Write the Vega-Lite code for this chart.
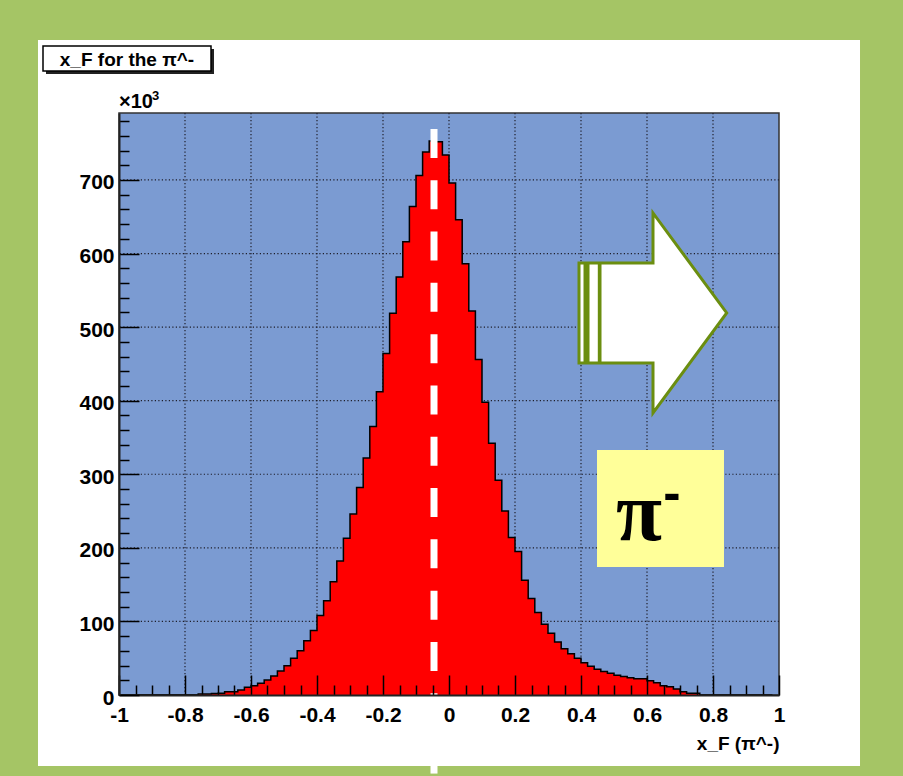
{
  "$schema": "https://vega.github.io/schema/vega-lite/v6.json",
  "width": 660,
  "height": 582,
  "autosize": {"type": "none"},
  "padding": {"left": 119, "top": 113, "right": 124, "bottom": 81},
  "background": "#a5c565",
  "config": {"view": {"stroke": null}},
  "datasets": {
    "hist": [
      {"x0": -1.00, "count": 0}, {"x0": -0.98, "count": 0}, {"x0": -0.96, "count": 0}, {"x0": -0.94, "count": 0},
      {"x0": -0.92, "count": 0}, {"x0": -0.90, "count": 0}, {"x0": -0.88, "count": 0}, {"x0": -0.86, "count": 0},
      {"x0": -0.84, "count": 0}, {"x0": -0.82, "count": 0}, {"x0": -0.80, "count": 0}, {"x0": -0.78, "count": 0},
      {"x0": -0.76, "count": 1.5}, {"x0": -0.74, "count": 1.5}, {"x0": -0.72, "count": 2}, {"x0": -0.70, "count": 2.5},
      {"x0": -0.68, "count": 4.5}, {"x0": -0.66, "count": 4.5}, {"x0": -0.64, "count": 6.8}, {"x0": -0.62, "count": 10.4},
      {"x0": -0.60, "count": 12.7}, {"x0": -0.58, "count": 15.9}, {"x0": -0.56, "count": 20.4}, {"x0": -0.54, "count": 25.8},
      {"x0": -0.52, "count": 32.6}, {"x0": -0.50, "count": 39.9}, {"x0": -0.48, "count": 49.8}, {"x0": -0.46, "count": 60.3},
      {"x0": -0.44, "count": 73.9}, {"x0": -0.42, "count": 87.5}, {"x0": -0.40, "count": 107.9}, {"x0": -0.38, "count": 128},
      {"x0": -0.36, "count": 154}, {"x0": -0.34, "count": 182}, {"x0": -0.32, "count": 213}, {"x0": -0.30, "count": 246},
      {"x0": -0.28, "count": 282}, {"x0": -0.26, "count": 322}, {"x0": -0.24, "count": 365}, {"x0": -0.22, "count": 412},
      {"x0": -0.20, "count": 464}, {"x0": -0.18, "count": 519}, {"x0": -0.16, "count": 568}, {"x0": -0.14, "count": 616},
      {"x0": -0.12, "count": 664}, {"x0": -0.10, "count": 706}, {"x0": -0.08, "count": 738}, {"x0": -0.06, "count": 753},
      {"x0": -0.04, "count": 752}, {"x0": -0.02, "count": 734}, {"x0": 0.00, "count": 696}, {"x0": 0.02, "count": 646},
      {"x0": 0.04, "count": 586}, {"x0": 0.06, "count": 522}, {"x0": 0.08, "count": 456}, {"x0": 0.10, "count": 398},
      {"x0": 0.12, "count": 342}, {"x0": 0.14, "count": 292}, {"x0": 0.16, "count": 250}, {"x0": 0.18, "count": 214},
      {"x0": 0.20, "count": 195}, {"x0": 0.22, "count": 156}, {"x0": 0.24, "count": 131}, {"x0": 0.26, "count": 112},
      {"x0": 0.28, "count": 96}, {"x0": 0.30, "count": 84}, {"x0": 0.32, "count": 72}, {"x0": 0.34, "count": 63},
      {"x0": 0.36, "count": 56}, {"x0": 0.38, "count": 50}, {"x0": 0.40, "count": 44}, {"x0": 0.42, "count": 39},
      {"x0": 0.44, "count": 35}, {"x0": 0.46, "count": 32}, {"x0": 0.48, "count": 29.5}, {"x0": 0.50, "count": 27},
      {"x0": 0.52, "count": 25}, {"x0": 0.54, "count": 23.5}, {"x0": 0.56, "count": 22}, {"x0": 0.58, "count": 22},
      {"x0": 0.60, "count": 19.5}, {"x0": 0.62, "count": 16.7}, {"x0": 0.64, "count": 12.7}, {"x0": 0.66, "count": 11.3},
      {"x0": 0.68, "count": 8.2}, {"x0": 0.70, "count": 4.5}, {"x0": 0.72, "count": 2.3}, {"x0": 0.74, "count": 2.3},
      {"x0": 0.76, "count": 0}, {"x0": 0.78, "count": 0}, {"x0": 0.80, "count": 0}, {"x0": 0.82, "count": 0},
      {"x0": 0.84, "count": 0}, {"x0": 0.86, "count": 0}, {"x0": 0.88, "count": 0}, {"x0": 0.90, "count": 0},
      {"x0": 0.92, "count": 0}, {"x0": 0.94, "count": 0}, {"x0": 0.96, "count": 0}, {"x0": 0.98, "count": 0}
    ]
  },
  "resolve": {"axis": {"x": "independent", "y": "independent"}},
  "layer": [
    {
      "data": {"values": [{"x0": -1.2455, "x1": 1.2455, "y0": -96.5, "y1": 890.2}]},
      "mark": {"type": "rect", "fill": "white", "clip": false},
      "encoding": {
        "x": {"field": "x0", "type": "quantitative", "scale": {"domain": [-1, 1], "nice": false}, "axis": null},
        "x2": {"field": "x1"},
        "y": {"field": "y0", "type": "quantitative", "scale": {"domain": [0, 791], "nice": false}, "axis": null},
        "y2": {"field": "y1"}
      }
    },
    {
      "data": {"values": [{"x0": -1, "x1": 1, "y0": 0, "y1": 791}]},
      "mark": {"type": "rect", "fill": "#7b9bd2", "stroke": "#333333", "strokeWidth": 1.5, "clip": false},
      "encoding": {
        "x": {"field": "x0", "type": "quantitative", "scale": {"domain": [-1, 1], "nice": false}, "axis": null},
        "x2": {"field": "x1"},
        "y": {"field": "y0", "type": "quantitative", "scale": {"domain": [0, 791], "nice": false}, "axis": null},
        "y2": {"field": "y1"}
      }
    },
    {
      "data": {"values": [{"g": -0.8}, {"g": -0.6}, {"g": -0.4}, {"g": -0.2}, {"g": 0}, {"g": 0.2}, {"g": 0.4}, {"g": 0.6}, {"g": 0.8}]},
      "mark": {"type": "rule", "color": "#1e1e2a", "strokeWidth": 1.2, "strokeDash": [1.2, 2.3]},
      "encoding": {
        "x": {"field": "g", "type": "quantitative", "scale": {"domain": [-1, 1], "nice": false},
          "axis": {"orient": "bottom", "values": [-0.95, -0.9, -0.85, -0.75, -0.7, -0.65, -0.55, -0.5, -0.45, -0.35, -0.3, -0.25, -0.15, -0.1, -0.05, 0.05, 0.1, 0.15, 0.25, 0.3, 0.35, 0.45, 0.5, 0.55, 0.65, 0.7, 0.75, 0.85, 0.9, 0.95],
            "labels": false, "domain": false, "grid": false, "ticks": true, "tickSize": -10, "tickWidth": 1.5, "tickColor": "black", "title": null, "zindex": 1}}
      }
    },
    {
      "data": {"values": [{"g": 100}, {"g": 200}, {"g": 300}, {"g": 400}, {"g": 500}, {"g": 600}, {"g": 700}]},
      "mark": {"type": "rule", "color": "#1e1e2a", "strokeWidth": 1.2, "strokeDash": [1.2, 2.3]},
      "encoding": {
        "y": {"field": "g", "type": "quantitative", "scale": {"domain": [0, 791], "nice": false},
          "axis": {"orient": "left", "values": [20, 40, 60, 80, 120, 140, 160, 180, 220, 240, 260, 280, 320, 340, 360, 380, 420, 440, 460, 480, 520, 540, 560, 580, 620, 640, 660, 680, 720, 740, 760, 780],
            "labels": false, "domain": false, "grid": false, "ticks": true, "tickSize": -10, "tickWidth": 1.5, "tickColor": "black", "title": null, "zindex": 1}}
      }
    },
    {
      "data": {"name": "hist"},
      "mark": {"type": "area", "interpolate": "step-after", "color": "#ff0000", "opacity": 1, "fillOpacity": 1, "line": {"color": "black", "strokeWidth": 1.5}},
      "encoding": {
        "x": {"field": "x0", "type": "quantitative", "scale": {"domain": [-1, 1], "nice": false},
          "axis": {"orient": "bottom", "values": [-1, -0.8, -0.6, -0.4, -0.2, 0, 0.2, 0.4, 0.6, 0.8, 1], "labelExpr": "'' + datum.value",
            "grid": false, "domain": true, "domainColor": "#222222", "domainWidth": 2, "ticks": true, "tickSize": -20, "tickWidth": 1.5, "tickColor": "black",
            "labelFont": "Liberation Sans", "labelFontWeight": "bold", "labelFontSize": 21, "labelColor": "black", "labelPadding": 29.5, "labelBaseline": "top",
            "labelFlush": false, "labelOverlap": false,
            "title": "x_F (π^-)", "titleFont": "Liberation Sans", "titleFontWeight": "bold", "titleFontSize": 19, "titleColor": "black",
            "titleX": 660, "titleY": 54, "titleAlign": "right", "titleBaseline": "alphabetic", "titleAnchor": null, "zindex": 1}},
        "y": {"field": "count", "type": "quantitative", "scale": {"domain": [0, 791], "nice": false},
          "axis": {"orient": "left", "values": [0, 100, 200, 300, 400, 500, 600, 700], "grid": false, "domain": true, "domainColor": "#222222", "domainWidth": 2,
            "ticks": true, "tickSize": -20, "tickWidth": 1.5, "tickColor": "black",
            "labelFont": "Liberation Sans", "labelFontWeight": "bold", "labelFontSize": 21, "labelColor": "black", "labelPadding": 25, "labelOffset": 3,
            "labelFlush": false, "labelOverlap": false, "title": null, "zindex": 1}}
      }
    },
    {
      "data": {"values": [{"x": -0.04545, "y0": 769.3, "y1": -110.1}]},
      "mark": {"type": "rule", "color": "white", "strokeWidth": 7, "strokeDash": [29, 22.3], "clip": false},
      "encoding": {
        "x": {"field": "x", "type": "quantitative", "axis": null},
        "y": {"field": "y0", "type": "quantitative", "axis": null},
        "y2": {"field": "y1"}
      }
    },
    {
      "data": {"values": [{"x": 0.6182, "y": 519.2}]},
      "mark": {"type": "point", "shape": "M-0.53,-0.5 L0,-0.5 L0,-1 L0.737,0 L0,1 L0,0.5 L-0.53,0.5 Z M-0.74,-0.5 L-0.68,-0.5 L-0.68,0.5 L-0.74,0.5 Z M-0.65,-0.5 L-0.537,-0.5 L-0.537,0.5 L-0.65,0.5 Z",
        "size": 40000, "filled": true, "fill": "white", "stroke": "#6b8e10", "strokeWidth": 3, "opacity": 1, "fillOpacity": 1, "strokeOpacity": 1, "clip": false},
      "encoding": {
        "x": {"field": "x", "type": "quantitative", "axis": null},
        "y": {"field": "y", "type": "quantitative", "axis": null}
      }
    },
    {
      "data": {"values": [{"x0": 0.4485, "x1": 0.8333, "y0": 174, "y1": 333}]},
      "mark": {"type": "rect", "fill": "#ffff99"},
      "encoding": {
        "x": {"field": "x0", "type": "quantitative", "axis": null},
        "x2": {"field": "x1"},
        "y": {"field": "y0", "type": "quantitative", "axis": null},
        "y2": {"field": "y1"}
      }
    },
    {
      "data": {"values": [{"x": 0.5758, "y": 210.7, "t": "π"}]},
      "mark": {"type": "text", "font": "Liberation Serif", "fontWeight": "bold", "fontSize": 84, "align": "center", "baseline": "alphabetic", "color": "black"},
      "encoding": {
        "x": {"field": "x", "type": "quantitative", "axis": null},
        "y": {"field": "y", "type": "quantitative", "axis": null},
        "text": {"field": "t"}
      }
    },
    {
      "data": {"values": [{"x": 0.6758, "y": 251, "t": "-"}]},
      "mark": {"type": "text", "font": "Liberation Sans", "fontWeight": "bold", "fontSize": 52, "align": "center", "baseline": "alphabetic", "color": "black"},
      "encoding": {
        "x": {"field": "x", "type": "quantitative", "axis": null},
        "y": {"field": "y", "type": "quantitative", "axis": null},
        "text": {"field": "t"}
      }
    },
    {
      "data": {"values": [{"x0": -1.2212, "x1": -0.7121, "y0": 844, "y1": 878}]},
      "mark": {"type": "rect", "fill": "#222222", "clip": false},
      "encoding": {
        "x": {"field": "x0", "type": "quantitative", "axis": null},
        "x2": {"field": "x1"},
        "y": {"field": "y0", "type": "quantitative", "axis": null},
        "y2": {"field": "y1"}
      }
    },
    {
      "data": {"values": [{"x0": -1.2303, "x1": -0.7212, "y0": 848.1, "y1": 882.1}]},
      "mark": {"type": "rect", "fill": "white", "stroke": "black", "strokeWidth": 1.5, "clip": false},
      "encoding": {
        "x": {"field": "x0", "type": "quantitative", "axis": null},
        "x2": {"field": "x1"},
        "y": {"field": "y0", "type": "quantitative", "axis": null},
        "y2": {"field": "y1"}
      }
    },
    {
      "data": {"values": [{"x": -0.9758, "y": 855.5, "t": "x_F for the π^-"}]},
      "mark": {"type": "text", "font": "Liberation Sans", "fontWeight": "bold", "fontSize": 19, "align": "center", "baseline": "alphabetic", "color": "black", "clip": false},
      "encoding": {
        "x": {"field": "x", "type": "quantitative", "axis": null},
        "y": {"field": "y", "type": "quantitative", "axis": null},
        "text": {"field": "t"}
      }
    },
    {
      "data": {"values": [{"x": -1.0, "y": 797.8, "t": "×10"}]},
      "mark": {"type": "text", "font": "Liberation Sans", "fontWeight": "bold", "fontSize": 20, "align": "left", "baseline": "alphabetic", "color": "black", "clip": false},
      "encoding": {
        "x": {"field": "x", "type": "quantitative", "axis": null},
        "y": {"field": "y", "type": "quantitative", "axis": null},
        "text": {"field": "t"}
      }
    },
    {
      "data": {"values": [{"x": -0.9, "y": 808.7, "t": "3"}]},
      "mark": {"type": "text", "font": "Liberation Sans", "fontWeight": "bold", "fontSize": 13, "align": "left", "baseline": "alphabetic", "color": "black", "clip": false},
      "encoding": {
        "x": {"field": "x", "type": "quantitative", "axis": null},
        "y": {"field": "y", "type": "quantitative", "axis": null},
        "text": {"field": "t"}
      }
    }
  ]
}
